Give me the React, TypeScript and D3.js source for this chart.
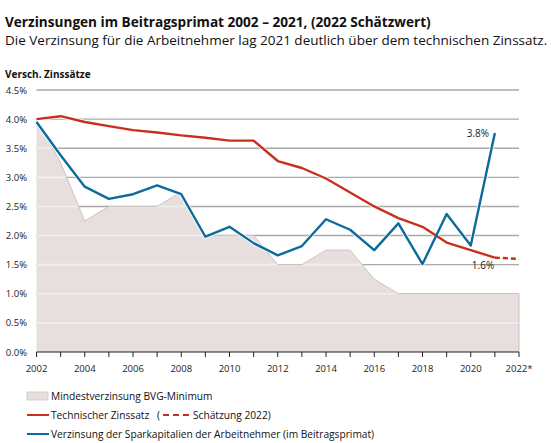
import React from "react";
import * as d3 from "d3";

const years = d3.range(2002, 2023);
const lineYears = d3.range(2002, 2022);
const bvgMinimum = [4.0, 3.25, 2.25, 2.5, 2.5, 2.5, 2.75, 2.0, 2.0, 2.0, 1.5, 1.5, 1.75, 1.75, 1.25, 1.0, 1.0, 1.0, 1.0, 1.0, 1.0];
const technischerZinssatz = [4.0, 4.05, 3.95, 3.88, 3.81, 3.77, 3.72, 3.68, 3.63, 3.63, 3.28, 3.16, 2.98, 2.74, 2.5, 2.3, 2.15, 1.88, 1.75, 1.62];
const schaetzung2022 = [1.62, 1.6];
const schaetzungYears = [2021, 2022];
const verzinsung = [3.95, 3.38, 2.84, 2.63, 2.71, 2.86, 2.71, 1.98, 2.15, 1.87, 1.66, 1.82, 2.28, 2.1, 1.75, 2.21, 1.51, 2.37, 1.83, 3.76];
const yTicks = [0, 0.5, 1, 1.5, 2, 2.5, 3, 3.5, 4, 4.5];
const xLabelYears = d3.range(2002, 2023, 2);

const title = "Verzinsungen im Beitragsprimat 2002 – 2021, (2022 Schätzwert)";
const subtitle = "Die Verzinsung für die Arbeitnehmer lag 2021 deutlich über dem technischen Zinssatz.";
const yTitle = "Versch. Zinssätze";
const legendArea = "Mindestverzinsung BVG-Minimum";
const legendRed = "Technischer Zinssatz";
const legendDash = "Schätzung 2022)";
const legendBlue = "Verzinsung der Sparkapitalien der Arbeitnehmer (im Beitragsprimat)";

const RED = "#c9301c";
const BLUE = "#0d6b9b";
const AREA = "#e6dfdd";
const FONT = "'Open Sans', 'Noto Sans', sans-serif";

export default function App() {
  const x = d3.scaleLinear().domain([2002, 2022]).range([36.5, 519]);
  const y = d3.scaleLinear().domain([0, 4.5]).range([352, 90]);

  const area = d3
    .area<number>()
    .x((_, i) => x(years[i]))
    .y0(y(0))
    .y1((d) => y(d))(bvgMinimum) as string;
  const areaTop = d3
    .line<number>()
    .x((_, i) => x(years[i]))
    .y((d) => y(d))(bvgMinimum) as string;
  const redPath = d3
    .line<number>()
    .x((_, i) => x(lineYears[i]))
    .y((d) => y(d))(technischerZinssatz) as string;
  const dashPath = d3
    .line<number>()
    .x((_, i) => x(schaetzungYears[i]))
    .y((d) => y(d))(schaetzung2022) as string;
  const bluePath = d3
    .line<number>()
    .x((_, i) => x(lineYears[i]))
    .y((d) => y(d))(verzinsung) as string;

  const x0 = x(2002);
  const x1 = x(2022);

  return (
    <svg
      width={551}
      height={443}
      style={{ position: "absolute", left: 0, top: 0, background: "#fff" }}
      fontFamily={FONT}
    >
      <defs>
        <clipPath id="areaClip">
          <path d={area} />
        </clipPath>
      </defs>
      <text x={5} y={27} fontSize={13.6} fontWeight="bold" fill="#111">
        {title}
      </text>
      <text x={5} y={45} fontSize={13.5} fill="#111">
        {subtitle}
      </text>
      <text x={5} y={78} fontSize={10} fontWeight="bold" fill="#111">
        {yTitle}
      </text>

      {/* grid */}
      {yTicks.map((t) => (
        <g key={t}>
          {t > 0 && (
            <line x1={x0} x2={x1} y1={y(t)} y2={y(t)} stroke="#a9a9a9" strokeWidth={1.4} />
          )}
          <text x={27} y={y(t) + 3.5} fontSize={9.5} textAnchor="end" fill="#222">
            {d3.format(".1f")(t) + "%"}
          </text>
        </g>
      ))}

      {/* area */}
      <path d={area} fill={AREA} />
      <g clipPath="url(#areaClip)">
        {yTicks
          .filter((t) => t > 0)
          .map((t) => (
            <line key={t} x1={x0} x2={x1} y1={y(t)} y2={y(t)} stroke="#f3efee" strokeWidth={1.6} />
          ))}
      </g>
      <path d={areaTop} fill="none" stroke="#cdc3c0" strokeWidth={1} />
      <line x1={x1} x2={x1} y1={y(1)} y2={y(0)} stroke="#cdc3c0" strokeWidth={1} />

      {/* axis */}
      <line x1={x0} x2={x1} y1={y(0)} y2={y(0)} stroke="#222" strokeWidth={1.2} />
      {years.map((yr) => (
        <line key={yr} x1={x(yr)} x2={x(yr)} y1={y(0)} y2={y(0) + 5} stroke="#222" strokeWidth={1} />
      ))}
      {xLabelYears.map((yr) => (
        <text key={yr} x={x(yr)} y={372} fontSize={9.5} textAnchor="middle" fill="#222">
          {yr === 2022 ? "2022*" : String(yr)}
        </text>
      ))}

      {/* lines */}
      <path d={redPath} fill="none" stroke="#fff" strokeWidth={4} strokeLinejoin="round" />
      <path d={bluePath} fill="none" stroke="#fff" strokeWidth={4} strokeLinejoin="round" />
      <path d={redPath} fill="none" stroke={RED} strokeWidth={2.4} strokeLinejoin="round" />
      <path d={dashPath} fill="none" stroke={RED} strokeWidth={2.4} strokeDasharray="5,3" />
      <path d={bluePath} fill="none" stroke={BLUE} strokeWidth={2.4} strokeLinejoin="round" />

      <text x={489} y={137} fontSize={10} textAnchor="end" fill="#222">
        3.8%
      </text>
      <text x={483} y={269} fontSize={10} textAnchor="middle" fill="#222">
        1.6%
      </text>

      {/* legend */}
      <rect x={27} y={392} width={21} height={8} fill={AREA} stroke="#cdc3c0" strokeWidth={0.8} />
      <text x={51} y={400} fontSize={10.2} fill="#111">
        {legendArea}
      </text>
      <line x1={27} x2={49} y1={415} y2={415} stroke={RED} strokeWidth={2} />
      <text x={51} y={419} fontSize={10.2} fill="#111">
        {legendRed}
      </text>
      <text x={157} y={419} fontSize={10.2} fill="#111">
        (
      </text>
      <line x1={163} x2={190} y1={415} y2={415} stroke={RED} strokeWidth={2} strokeDasharray="6,4" />
      <text x={193} y={419} fontSize={10.2} fill="#111">
        {legendDash}
      </text>
      <line x1={27} x2={49} y1={434} y2={434} stroke={BLUE} strokeWidth={2} />
      <text x={51} y={438} fontSize={10.2} fill="#111">
        {legendBlue}
      </text>
    </svg>
  );
}
